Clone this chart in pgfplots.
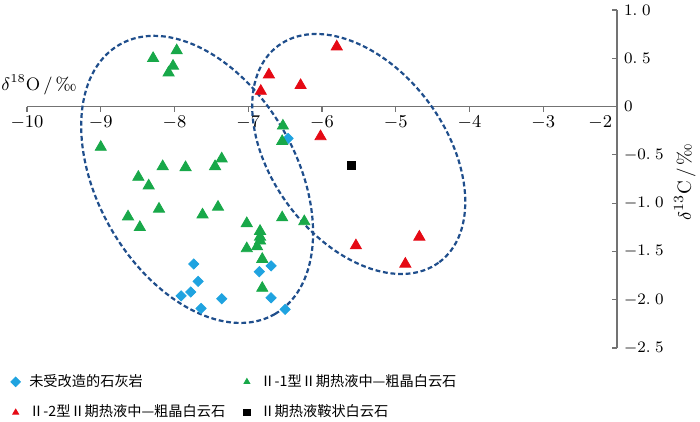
\documentclass[border=0pt]{standalone}
\usepackage{fontspec}
\usepackage{pgfplots}
\pgfplotsset{compat=1.18}
\newfontfamily\cjk{Noto Sans CJK SC}
\definecolor{cblue}{HTML}{1FA3E0}
\definecolor{cgreen}{HTML}{18A849}
\definecolor{cred}{HTML}{E50914}
\definecolor{cring}{HTML}{1F4E8C}
\begin{document}
\begin{tikzpicture}
\begin{axis}[
  scale only axis, width=295pt, height=169pt,
  xmin=-10, xmax=-2, ymin=-2.5, ymax=1,
  axis x line*=middle, axis y line*=right,
  axis line style={black!55, line width=0.6pt},
  hide obscured x ticks=false, hide obscured y ticks=false,
  clip=false,
  xtick={-10,-9,...,-2},
  xticklabels={$-10$,$-9$,$-8$,$-7$,$-6$,$-5$,$-4$,$-3$,\hbox to 0pt{\hss$-2$\hspace{2.5pt}}},
  ytick={-2.5,-2,-1.5,-1,-0.5,0,0.5,1},
  yticklabels={$-2.\;5$,$-2.\;0$,$-1.\;5$,$-1.\;0$,$-0.\;5$,$0$,$0.\;5$,$1.\;0$},
  xtick align=center, ytick align=inside,
  major tick length=2.5pt,
  x tick style={yshift=-1.25pt, black!55, line width=0.6pt},
  y tick style={black!55, line width=0.6pt},
  x tick label style={font=\fontsize{9}{10}\selectfont},
  y tick label style={font=\fontsize{8.5}{10}\selectfont},
  xlabel={$\delta^{18}$O\,/\,\textperthousand},
  ylabel={$\delta^{13}$C\,/\,\textperthousand},
  xlabel style={at={(rel axis cs:-0.044,0.778)}, anchor=west, inner sep=0pt, font=\fontsize{9}{10}\selectfont},
  ylabel style={at={(rel axis cs:1.115,0.491)}, anchor=center, font=\fontsize{9.5}{11}\selectfont},
  legend columns=2,
  legend cell align=left,
  legend style={at={(rel axis cs:-0.03,-0.065)}, anchor=north west, draw=none, fill=none,
    inner sep=0pt, font=\cjk\fontsize{7.1}{8}\selectfont,
    nodes={text width=105pt, align=left, inner xsep=0.8pt},
    /tikz/every even column/.append style={column sep=0pt}, row sep=3.8pt},
  legend image code/.code={\path[draw=none, fill=none, use as bounding box] (0pt,-2pt) rectangle (9pt,2pt); \draw[#1, mark size=1.7pt] plot coordinates {(3pt,0pt)};},
]
\begin{scope}[shift={(axis cs:-7.693,-0.754)}, rotate=-60]
  \draw[cring, line width=1.1pt, dash pattern=on 2.4pt off 1.4pt] (0pt,0pt) ellipse [x radius=77.75pt, y radius=49.65pt];
\end{scope}
\begin{scope}[shift={(axis cs:-5.502,-0.491)}, rotate=-53.3]
  \draw[cring, line width=1.1pt, dash pattern=on 2.4pt off 1.4pt] (0pt,0pt) ellipse [x radius=67.45pt, y radius=43.45pt];
\end{scope}

\addplot[only marks, mark=square*, mark size=1.8pt, mark options={rotate=45}, color=cblue] coordinates {
(-7.74,-1.63) (-7.68,-1.81) (-7.78,-1.92) (-7.91,-1.96) (-7.64,-2.09) (-7.36,-1.99)
(-6.69,-1.65) (-6.85,-1.71) (-6.69,-1.98) (-6.50,-2.10) (-6.46,-0.33)};
\addlegendentry{未受改造的石灰岩}

\addplot[only marks, mark=triangle*, mark size=3.2pt, color=cgreen] coordinates {
(-8.29,0.50) (-7.97,0.58) (-8.02,0.42) (-8.08,0.35)
(-9.00,-0.42) (-8.16,-0.62) (-7.85,-0.63) (-7.36,-0.54) (-7.45,-0.62)
(-8.49,-0.73) (-8.35,-0.82) (-8.21,-1.06) (-8.63,-1.14) (-8.47,-1.25)
(-7.62,-1.12) (-7.41,-1.04) (-7.02,-1.21) (-6.54,-1.15) (-6.24,-1.19)
(-6.84,-1.29) (-6.84,-1.35) (-6.84,-1.39) (-7.02,-1.47) (-6.88,-1.45)
(-6.81,-1.58) (-6.81,-1.88) (-6.53,-0.20) (-6.54,-0.36)};
\addlegendentry{Ⅱ-1型Ⅱ期热液中—粗晶白云石}

\addplot[only marks, mark=triangle*, mark size=3.2pt, color=cred] coordinates {
(-5.80,0.62) (-6.72,0.33) (-6.29,0.22) (-6.83,0.16) (-6.02,-0.31)
(-5.54,-1.44) (-4.68,-1.35) (-4.87,-1.63)};
\addlegendentry{Ⅱ-2型Ⅱ期热液中—粗晶白云石}

\addplot[only marks, mark=square*, mark size=2pt, color=black] coordinates {(-5.60,-0.61)};
\addlegendentry{Ⅱ期热液鞍状白云石}

\coordinate (bbsw) at (rel axis cs:-0.04576,-0.21893);
\coordinate (bbne) at (rel axis cs:1.14068,1.02959);
\end{axis}
\pgfresetboundingbox
\path[use as bounding box] (bbsw) rectangle (bbne);
\end{tikzpicture}
\end{document}
